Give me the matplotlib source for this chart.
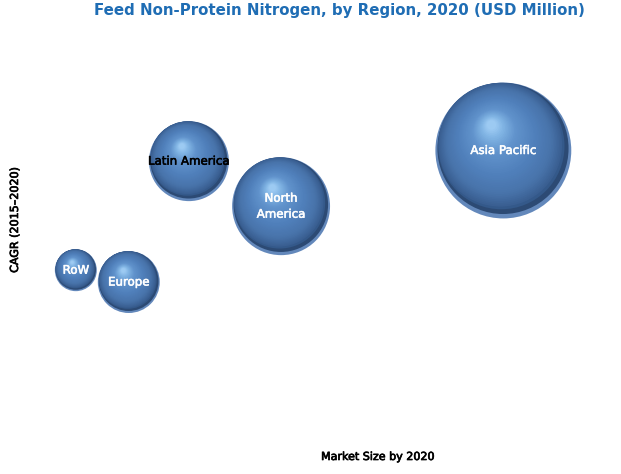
import numpy as np
import matplotlib
matplotlib.use("Agg")
import matplotlib.pyplot as plt
from matplotlib.colors import LinearSegmentedColormap
from matplotlib.transforms import ScaledTranslation
import matplotlib.patheffects as pe

# ---- data ----
regions = ["RoW", "Europe", "Latin America", "North\nAmerica", "Asia Pacific"]
market_size = [116, 197, 289, 430, 770]        # x position (market size by 2020)
cagr = [3.72, 3.62, 4.64, 4.26, 4.73]          # y position (CAGR 2015-2020)
bubble_value = [441, 961, 1600, 2401, 4624]    # bubble area value
label_colors = ["white", "white", "black", "white", "white"]

title = "Feed Non-Protein Nitrogen, by Region, 2020 (USD Million)"
xlabel = "Market Size by 2020"
ylabel = "CAGR (2015\u20132020)"

fig = plt.figure(figsize=(6.21, 4.74), dpi=100)
ax = fig.add_axes([0, 0, 1, 1])
ax.set_xlim(0, 950)
ax.set_ylim(2.0, 6.0)
ax.axis("off")

cmap = LinearSegmentedColormap.from_list(
    "sphere",
    [(0.0, "#3a5f92"), (0.15, "#4873aa"), (0.4, "#5080bb"),
     (0.7, "#6193cc"), (0.88, "#7fb3e3"), (1.0, "#9ccaf2")])

scale = 2.07  # points^2 per value unit
N = 45


def shifted(dx_r, dy_r, r_pt):
    return ax.transData + ScaledTranslation(dx_r * r_pt / 72.0,
                                            dy_r * r_pt / 72.0,
                                            fig.dpi_scale_trans)


for x, y, v in zip(market_size, cagr, bubble_value):
    s = v * scale
    r_pt = np.sqrt(s) / 2.0
    # light rim at bottom
    ax.scatter([x], [y], s=s, color="#6388bb", edgecolors="none", zorder=2)
    # dark shadow band lower right
    ax.scatter([x], [y], s=s * 0.965 ** 2, color="#2c4a74", edgecolors="none",
               transform=shifted(-0.005, 0.03, r_pt), zorder=2.5)
    ax.scatter([x], [y], s=s * 0.93 ** 2, color="#34598a", edgecolors="none",
               transform=shifted(-0.03, 0.065, r_pt), zorder=2.6)
    for k in range(N):
        t = k / (N - 1)
        f = 0.91 - 0.84 * t
        dx = -0.045 - 0.13 * t
        dy = 0.085 + 0.29 * t
        ax.scatter([x], [y], s=s * f ** 2, color=cmap(t), edgecolors="none",
                   transform=shifted(dx, dy, r_pt), zorder=3)

for x, y, lab, c in zip(market_size, cagr, regions, label_colors):
    ax.text(x, y, lab, ha="center", va="center", color=c, fontsize=8.5,
            family="DejaVu Sans", zorder=5, linespacing=1.3,
            path_effects=[pe.withStroke(linewidth=0.4, foreground=c)])

fig.text(339 / 621, 1 - 10 / 474, title, ha="center", va="center",
         color="#1f6db4", fontsize=10.8, fontweight="bold")
fig.text(378 / 621, 1 - 457 / 474, xlabel, ha="center", va="center",
         color="black", fontsize=8,
         path_effects=[pe.withStroke(linewidth=0.5, foreground="black")])
fig.text(15 / 621, 1 - 220 / 474, ylabel, ha="center", va="center",
         color="black", fontsize=8, rotation=90,
         path_effects=[pe.withStroke(linewidth=0.5, foreground="black")])

fig.savefig("out.png", dpi=100, facecolor="white")
